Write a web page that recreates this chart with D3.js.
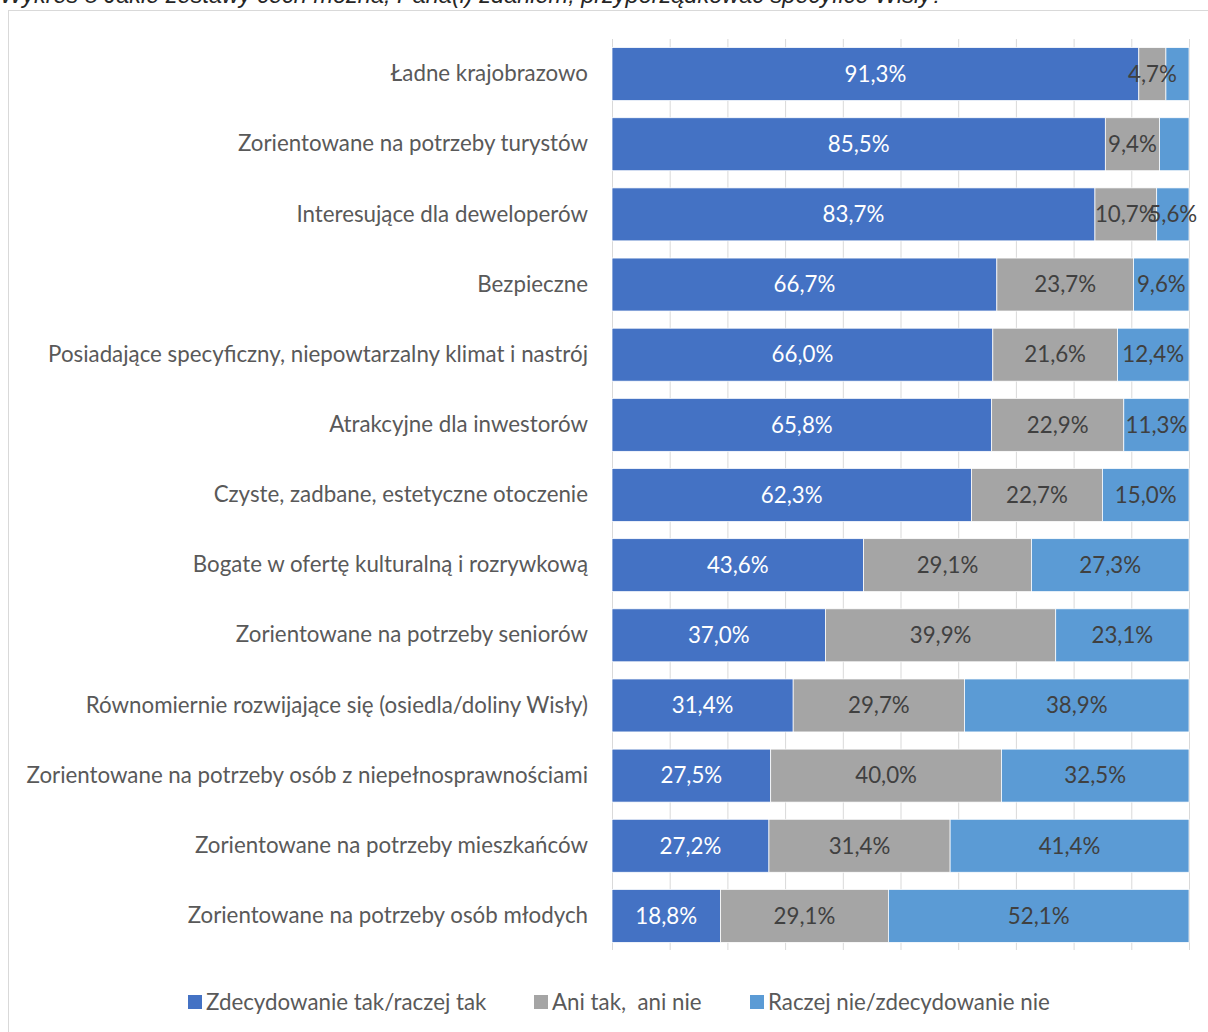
<!DOCTYPE html>
<html><head><meta charset="utf-8">
<script src="https://cdn.jsdelivr.net/npm/d3@7"></script>
<style>body{margin:0;background:#fff;}svg{display:block;}</style>
</head><body>
<svg id="chart" width="1208" height="1032"></svg>
<script>
const title = "Wykres 8 Jakie zestawy cech można, Pana(i) zdaniem, przyporządkować specyfice Wisły?";
const categories = [
  "Ładne krajobrazowo",
  "Zorientowane na potrzeby turystów",
  "Interesujące dla deweloperów",
  "Bezpieczne",
  "Posiadające specyficzny, niepowtarzalny klimat i nastrój",
  "Atrakcyjne dla inwestorów",
  "Czyste, zadbane, estetyczne otoczenie",
  "Bogate w ofertę kulturalną i rozrywkową",
  "Zorientowane na potrzeby seniorów",
  "Równomiernie rozwijające się (osiedla/doliny Wisły)",
  "Zorientowane na potrzeby osób z niepełnosprawnościami",
  "Zorientowane na potrzeby mieszkańców",
  "Zorientowane na potrzeby osób młodych"
];
const seriesNames = ["Zdecydowanie tak/raczej tak", "Ani tak,  ani nie", "Raczej nie/zdecydowanie nie"];
const yesValues = [91.3, 85.5, 83.7, 66.7, 66.0, 65.8, 62.3, 43.6, 37.0, 31.4, 27.5, 27.2, 18.8];
const neutralValues = [4.7, 9.4, 10.7, 23.7, 21.6, 22.9, 22.7, 29.1, 39.9, 29.7, 40.0, 31.4, 29.1];
const noValues = [4.0, 5.1, 5.6, 9.6, 12.4, 11.3, 15.0, 27.3, 23.1, 38.9, 32.5, 41.4, 52.1];
// labels not displayed in the original (series index, category index)
const hiddenLabels = [[2, 0], [2, 1]];
const xTicks = [0, 10, 20, 30, 40, 50, 60, 70, 80, 90, 100];
const colors = ["#4472C4", "#A5A5A5", "#5B9BD5"];
const labelColors = ["#ffffff", "#404040", "#404040"];

const svg = d3.select("#chart");
const FONT = "Lato, 'Open Sans', sans-serif";
const FS = 22.3;

svg.append("text").attr("x", 0).attr("y", 2.5)
  .attr("font-family", "'Liberation Sans', Arial, sans-serif").attr("font-style", "italic").attr("font-size", 23.5)
  .attr("fill", "#262626").text(title);

svg.append("rect").attr("x", 8.5).attr("y", 10.5).attr("width", 1210).attr("height", 1040)
  .attr("fill", "none").attr("stroke", "#d9d9d9").attr("stroke-width", 1);

const pLeft = 612, pRight = 1189, pTop = 39, pBottom = 951;
const x = d3.scaleLinear().domain([0, 100]).range([pLeft, pRight]);
const y = d3.scaleBand().domain(categories).range([pTop, pBottom]).paddingInner(0.245).paddingOuter(0.1225);

const gridBottom = pBottom - 8;
const g = svg.append("g").attr("transform", `translate(0,${gridBottom})`)
  .call(d3.axisBottom(x).tickValues(xTicks).tickSize(7).tickFormat(""));
g.select(".domain").remove();
g.selectAll(".tick line").attr("stroke", "#d9d9d9").attr("y1", -(gridBottom - pTop)).attr("y2", 7);

const stackData = categories.map((c, i) => ({cat: c, s0: yesValues[i], s1: neutralValues[i], s2: noValues[i]}));
const stack = d3.stack().keys(["s0", "s1", "s2"])(stackData);
const hidden = new Set(hiddenLabels.map(d => d[0] + "-" + d[1]));

const barsG = svg.append("g");
const labelsG = svg.append("g");
stack.forEach((layer, si) => {
  barsG.append("g").selectAll("rect").data(layer).join("rect")
    .attr("x", d => x(d[0]))
    .attr("y", d => y(d.data.cat))
    .attr("width", d => x(d[1]) - x(d[0]))
    .attr("height", y.bandwidth())
    .attr("fill", colors[si])
    .attr("stroke", "#ffffff").attr("stroke-width", 0.75);
  labelsG.append("g").selectAll("text").data(layer.filter((d, ci) => !hidden.has(si + "-" + ci))).join("text")
    .attr("x", d => (x(d[0]) + x(d[1])) / 2)
    .attr("y", d => y(d.data.cat) + y.bandwidth() / 2)
    .attr("dy", "0.35em")
    .attr("text-anchor", "middle")
    .attr("font-family", FONT).attr("font-size", FS)
    .attr("fill", labelColors[si])
    .text(d => d3.format(".1f")(d[1] - d[0]).replace(".", ",") + "%");
});

const ya = svg.append("g").attr("transform", `translate(${pLeft},0)`)
  .call(d3.axisLeft(y).tickSize(0).tickPadding(24));
ya.select(".domain").remove();
ya.selectAll("text").attr("font-family", FONT).attr("font-size", FS).attr("fill", "#595959");

const legendX = [188, 534, 750];
const legend = svg.append("g");
seriesNames.forEach((n, i) => {
  legend.append("rect").attr("x", legendX[i]).attr("y", 995).attr("width", 14).attr("height", 14).attr("fill", colors[i]);
  legend.append("text").attr("x", legendX[i] + 18).attr("y", 1002).attr("dy", "0.35em")
    .attr("font-family", FONT).attr("font-size", FS).attr("fill", "#595959")
    .style("white-space", "pre").text(n);
});
</script>
</body></html>
